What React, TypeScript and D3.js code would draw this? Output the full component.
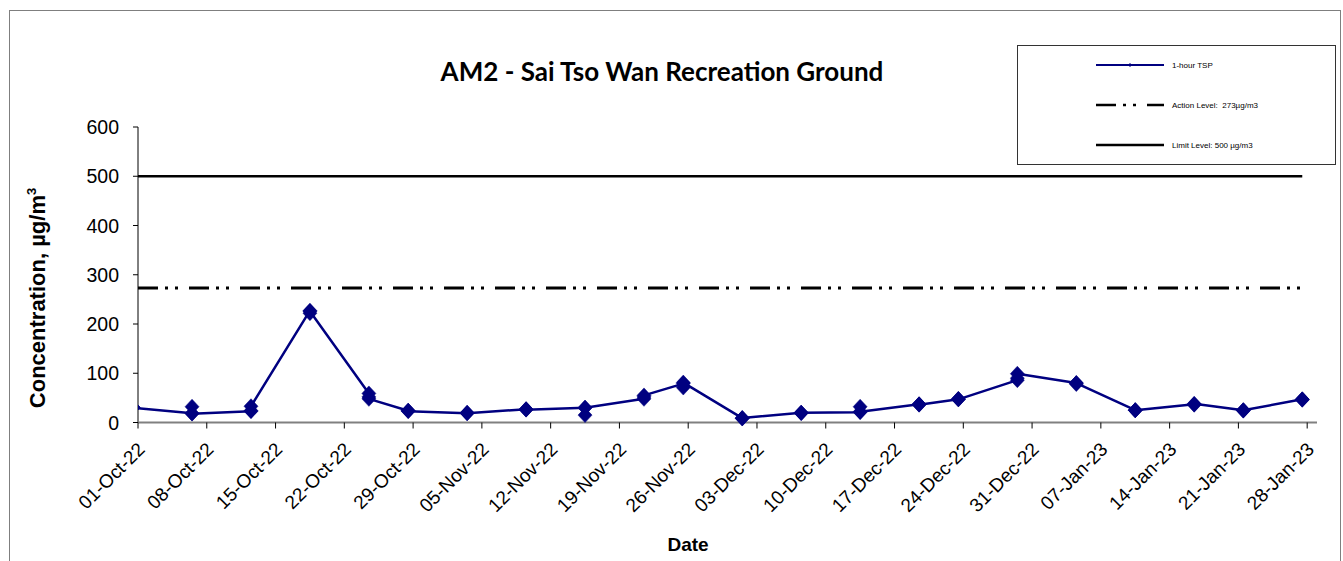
import React from "react";
import * as d3 from "d3";

// ---- data ----
const sampleDates = [
  "2022-09-30 12:00", "2022-10-06 12:00", "2022-10-12 12:00", "2022-10-18 12:00",
  "2022-10-24 12:00", "2022-10-28 12:00", "2022-11-03 12:00", "2022-11-09 12:00",
  "2022-11-15 12:00", "2022-11-21 12:00", "2022-11-25 12:00", "2022-12-01 12:00",
  "2022-12-07 12:00", "2022-12-13 12:00", "2022-12-19 12:00", "2022-12-23 12:00",
  "2022-12-29 12:00", "2023-01-04 12:00", "2023-01-10 12:00", "2023-01-16 12:00",
  "2023-01-21 12:00", "2023-01-27 12:00",
];
const sample1 = [31, 19, 23, 227, 59, 24, 19, 27, 30, 48, 79, 9, 20, 21, 37, 47, 86, 80, 25, 37, 25, 47];
const sample2 = [31, 32, 24, 222, 52, 24, 20, 27, 15, 52, 71, 8, 19, 32, 37, 48, 90, 78, 25, 36, 24, 46];
const sample3 = [30, 18, 33, 226, 48, 23, 19, 26, 30, 55, 81, 9, 20, 22, 36, 47, 99, 80, 25, 38, 25, 47];

const actionLevel = 273;
const limitLevel = 500;

const xTickDates = [
  "2022-10-01", "2022-10-08", "2022-10-15", "2022-10-22", "2022-10-29", "2022-11-05",
  "2022-11-12", "2022-11-19", "2022-11-26", "2022-12-03", "2022-12-10", "2022-12-17",
  "2022-12-24", "2022-12-31", "2023-01-07", "2023-01-14", "2023-01-21", "2023-01-28",
];
const yTicks = [0, 100, 200, 300, 400, 500, 600];
const xDomain = ["2022-10-01", "2023-01-29"];

const title = "AM2 - Sai Tso Wan Recreation Ground";
const legendLabels = ["1-hour TSP", "Action Level:  273µg/m3", "Limit Level: 500 µg/m3"];

// ---- layout ----
const W = 1343;
const H = 561;
const left = 138;
const right = 1317;
const top = 127;
const bottom = 422.5;
const NAVY = "#000080";
const FONT = "'Liberation Sans', Arial, sans-serif";
const actionDash = "20 7 3 7 3 11";

const parseT = d3.timeParse("%Y-%m-%d %H:%M");
const parseD = d3.timeParse("%Y-%m-%d");
const fmt = d3.timeFormat("%d-%b-%y");

export default function App() {
  const x = d3.scaleTime().domain(xDomain.map((s) => parseD(s) as Date)).range([left, right]);
  const y = d3.scaleLinear().domain([0, 600]).range([bottom, top]);

  const points: { d: Date; v: number }[] = [];
  sampleDates.forEach((s, i) => {
    const d = parseT(s) as Date;
    points.push({ d, v: sample1[i] }, { d, v: sample2[i] }, { d, v: sample3[i] });
  });
  const lineGen = d3
    .line<{ d: Date; v: number }>()
    .x((p) => x(p.d))
    .y((p) => y(p.v));

  const firstDate = parseD(xDomain[0]) as Date;
  const lastDate = parseT(sampleDates[sampleDates.length - 1]) as Date;
  const diamond = (cx: number, cy: number, w: number, h: number) =>
    `M${cx},${cy - h}L${cx + w},${cy}L${cx},${cy + h}L${cx - w},${cy}Z`;

  const legX1 = 1096;
  const legX2 = 1164;
  const legYs = [65, 105, 145];

  return (
    <svg
      width={W}
      height={H}
      style={{ position: "absolute", left: 0, top: 0, background: "#fff" }}
      fontFamily={FONT}
    >
      <defs>
        <clipPath id="plotClip">
          <rect x={left} y={-100} width={W} height={H + 200} />
        </clipPath>
      </defs>
      <rect x={9.5} y={10.5} width={1331} height={600} fill="#fff" stroke="#7f7f7f" strokeWidth={1} />

      {/* title */}
      <text x={662} y={81} textAnchor="middle" fontFamily="Lato, 'Open Sans', sans-serif" fontWeight="bold" fontSize={26}>
        {title}
      </text>

      {/* y axis */}
      <line x1={left} x2={left} y1={top} y2={bottom} stroke="#000" strokeWidth={1} />
      {yTicks.map((t) => (
        <g key={t}>
          <line x1={left - 5} x2={left} y1={y(t)} y2={y(t)} stroke="#000" strokeWidth={1} />
          <text x={119} y={y(t)} dy="0.36em" textAnchor="end" fontSize={19.5}>
            {t}
          </text>
        </g>
      ))}

      {/* x axis */}
      <line x1={left} x2={right} y1={bottom} y2={bottom} stroke="#808080" strokeWidth={2} />
      {xTickDates.map((s) => {
        const d = parseD(s) as Date;
        const px = x(d);
        return (
          <g key={s}>
            <line x1={px} x2={px} y1={bottom} y2={bottom + 6} stroke="#000" strokeWidth={1} />
            <text
              transform={`translate(${px + 8},${bottom + 28}) rotate(-45)`}
              textAnchor="end"
              fontSize={19}
            >
              {fmt(d)}
            </text>
          </g>
        );
      })}

      {/* axis titles */}
      <text x={688} y={551} textAnchor="middle" fontWeight="bold" fontSize={19}>
        Date
      </text>
      <text transform={`translate(45,298) rotate(-90)`} textAnchor="middle" fontWeight="bold" fontSize={22}>
        Concentration, µg/m<tspan dy={-9} fontSize={13}>3</tspan>
      </text>

      {/* limit & action lines */}
      <line x1={x(firstDate)} x2={x(lastDate)} y1={y(limitLevel)} y2={y(limitLevel)} stroke="#000" strokeWidth={2.5} />
      <line
        x1={x(firstDate)}
        x2={x(lastDate)}
        y1={y(actionLevel)}
        y2={y(actionLevel)}
        stroke="#000"
        strokeWidth={3}
        strokeDasharray={actionDash}
      />

      {/* series */}
      <g clipPath="url(#plotClip)">
        <path d={lineGen(points) || ""} fill="none" stroke={NAVY} strokeWidth={2.5} strokeLinejoin="round" />
        {points.map((p, i) => (
          <path key={i} d={diamond(x(p.d), y(p.v), 7, 7.5)} fill={NAVY} stroke={NAVY} strokeWidth={0.5} />
        ))}
      </g>

      {/* legend */}
      <rect x={1017.5} y={45.5} width={318} height={119} fill="#fff" stroke="#333" strokeWidth={1} />
      <line x1={legX1} x2={legX2} y1={legYs[0]} y2={legYs[0]} stroke={NAVY} strokeWidth={2} />
      <path d={diamond((legX1 + legX2) / 2, legYs[0], 2, 2)} fill={NAVY} />
      <line x1={legX1} x2={legX2} y1={legYs[1]} y2={legYs[1]} stroke="#000" strokeWidth={2.5} strokeDasharray={actionDash} />
      <line x1={legX1} x2={legX2} y1={legYs[2]} y2={legYs[2]} stroke="#000" strokeWidth={2.5} />
      {legendLabels.map((l, i) => (
        <text key={l} x={1172} y={legYs[i]} dy="0.35em" fontSize={8} fill="#000" style={{ whiteSpace: "pre" }}>
          {l}
        </text>
      ))}
    </svg>
  );
}
